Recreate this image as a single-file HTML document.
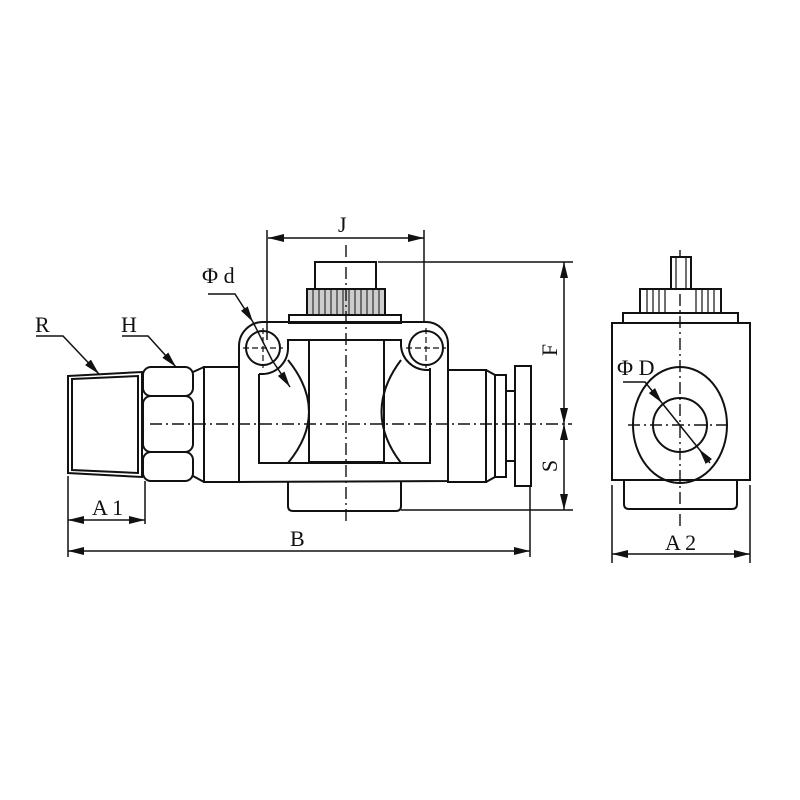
<!DOCTYPE html>
<html><head><meta charset="utf-8"><style>
html,body{margin:0;padding:0;background:#fff;}
svg{display:block}
text{font-family:"Liberation Serif",serif;font-size:22px;fill:#111}
</style></head><body>
<svg width="800" height="800" viewBox="0 0 800 800" xmlns="http://www.w3.org/2000/svg">
<defs>
<marker id="b" viewBox="0 0 16 10" refX="16" refY="5" markerWidth="16" markerHeight="10" markerUnits="userSpaceOnUse" orient="auto-start-reverse">
<path d="M0,1 L16,5 L0,9 Z" fill="#111"/></marker>
</defs>
<g fill="none" stroke="#111" stroke-width="2">
<path d="M68,376 L142,372 L142,477 L68,473 Z" fill="#fff"/>
<path d="M72,379 L138,376 L138,473 L72,470 Z"/>
<rect x="143" y="367" width="50" height="29" rx="8" fill="#fff"/>
<rect x="143" y="396" width="50" height="56" rx="8" fill="#fff"/>
<rect x="143" y="452" width="50" height="29" rx="8" fill="#fff"/>
<path d="M193,372 L204,367 M193,476 L204,482"/>
<rect x="204" y="367" width="35" height="115"/>
<path d="M239,482 L239,346 A24,24 0 0 1 263,322 L426,322 A22,22 0 0 1 448,344 L448,481 Z" fill="#fff"/>
<path d="M259,374 L259,463 L430,463 L430,368 M259,374 L263,374 A26,26 0 0 0 288,348 L288,340 L401,340 L401,346 A26,26 0 0 0 426,370 L430,370"/>
<circle cx="263" cy="348" r="17"/>
<circle cx="426" cy="348" r="17"/>
<rect x="309" y="340" width="75" height="122"/>
<path d="M288,360 Q330,412 288,463 M401,360 Q362,412 401,463"/>
<path d="M288,481 L288,506 Q288,511 293,511 L396,511 Q401,511 401,506 L401,481"/>
<rect x="289" y="315" width="112" height="8"/>
<rect x="307" y="289" width="78" height="26" fill="#ccc"/>
<path d="M313,289v26M319,289v26M325,289v26M331,289v26M337,289v26M343,289v26M349,289v26M355,289v26M361,289v26M367,289v26M373,289v26M379,289v26" stroke-width="1"/>
<rect x="315" y="262" width="61" height="27"/>
<rect x="448" y="370" width="38" height="112"/>
<path d="M486,370 L495,375 L495,477 L486,482"/>
<rect x="495" y="375" width="11" height="102"/>
<rect x="506" y="391" width="9" height="70"/>
<rect x="515" y="366" width="16" height="120" fill="#fff"/>
<g stroke-width="1.4" stroke-dasharray="12,4,2,4">
<line x1="150" y1="424" x2="572" y2="424"/>
<line x1="346" y1="245" x2="346" y2="525"/>
<line x1="680" y1="250" x2="680" y2="528"/>
<line x1="628" y1="425" x2="730" y2="425"/>
</g>
<g stroke-width="1.2" stroke-dasharray="6,3">
<line x1="243" y1="348" x2="283" y2="348"/><line x1="263" y1="328" x2="263" y2="368"/>
<line x1="406" y1="348" x2="446" y2="348"/><line x1="426" y1="328" x2="426" y2="368"/>
</g>
<g stroke-width="1.5">
<line x1="267" y1="230" x2="267" y2="340"/>
<line x1="424" y1="230" x2="424" y2="322"/>
<line x1="268" y1="238" x2="424" y2="238" marker-start="url(#b)" marker-end="url(#b)"/>
<line x1="378" y1="262" x2="573" y2="262"/>
<line x1="401" y1="510" x2="573" y2="510"/>
<line x1="564" y1="262" x2="564" y2="424" marker-start="url(#b)" marker-end="url(#b)"/>
<line x1="564" y1="424" x2="564" y2="510" marker-start="url(#b)" marker-end="url(#b)"/>
<line x1="68" y1="476" x2="68" y2="557"/>
<line x1="145" y1="481" x2="145" y2="524"/>
<line x1="530" y1="486" x2="530" y2="557"/>
<line x1="68" y1="520" x2="145" y2="520" marker-start="url(#b)" marker-end="url(#b)"/>
<line x1="68" y1="551" x2="530" y2="551" marker-start="url(#b)" marker-end="url(#b)"/>
<path d="M36,336 L63,336 L99,374" marker-end="url(#b)"/>
<path d="M122,336 L148,336 L176,367" marker-end="url(#b)"/>
<path d="M208,294 L235,294 L253,322" marker-end="url(#b)"/>
<line x1="290" y1="387" x2="272" y2="360" marker-start="url(#b)"/>
<line x1="253" y1="322" x2="272" y2="360"/>
<line x1="612" y1="485" x2="612" y2="563"/>
<line x1="750" y1="485" x2="750" y2="563"/>
<line x1="612" y1="554" x2="750" y2="554" marker-start="url(#b)" marker-end="url(#b)"/>
</g>
<rect x="612" y="323" width="138" height="157"/>
<rect x="623" y="313" width="115" height="10"/>
<rect x="640" y="289" width="81" height="24"/>
<path d="M647,289v24M653,289v24M659,289v24M665,289v24M696,289v24M702,289v24M708,289v24M714,289v24" stroke-width="1.2"/>
<rect x="671" y="257" width="20" height="32" fill="#fff"/>
<path d="M676,257v32M686,257v32" stroke-width="1.2"/>
<path d="M624,480 L624,504 Q624,509 629,509 L732,509 Q737,509 737,504 L737,480"/>
<ellipse cx="680" cy="425" rx="47" ry="58"/>
<circle cx="680" cy="425" r="27"/>
<path d="M623,382 L645,382 L662,403" marker-end="url(#b)" stroke-width="1.5"/>
<line x1="710" y1="463" x2="699" y2="449" stroke-width="1.5" marker-end="url(#b)"/>
<line x1="662" y1="403" x2="699" y2="449" stroke-width="1.5"/>
</g>
<text x="338" y="232">J</text>
<text x="35" y="332">R</text>
<text x="121" y="332">H</text>
<text x="202" y="283">Φ d</text>
<text x="92" y="515">A 1</text>
<text x="290" y="546">B</text>
<text x="617" y="375">Φ D</text>
<text x="665" y="550">A 2</text>
<text transform="translate(557,350) rotate(-90)" text-anchor="middle">F</text>
<text transform="translate(557,466) rotate(-90)" text-anchor="middle">S</text>
</svg>
</body></html>
